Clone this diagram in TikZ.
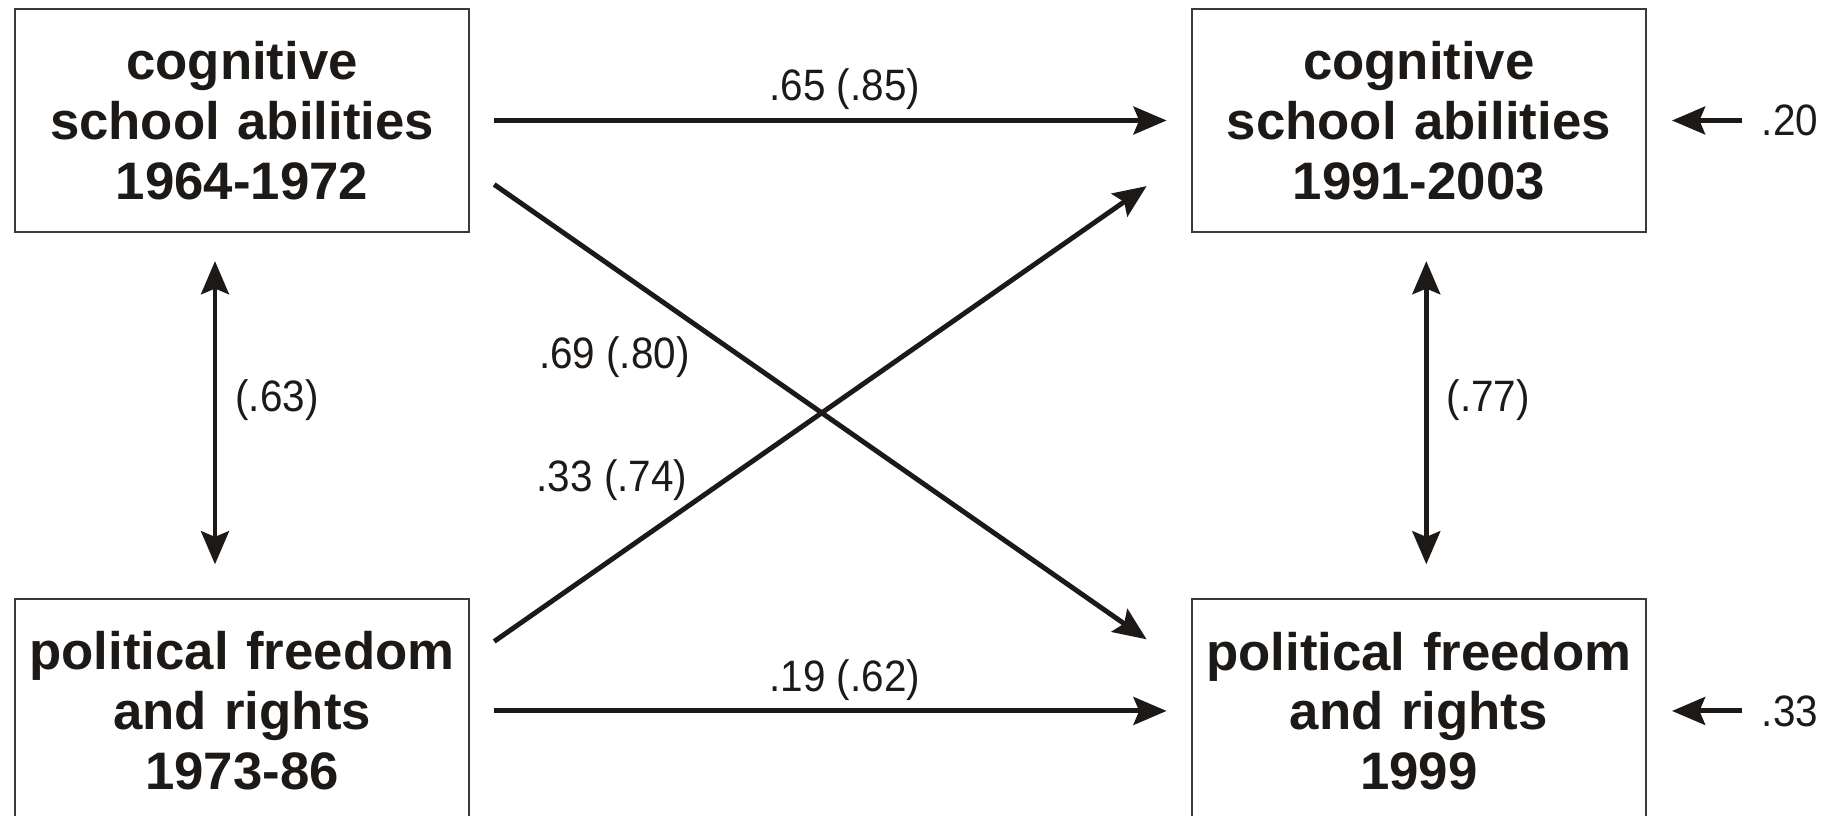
\documentclass[tikz,border=0pt]{standalone}
\usepackage{fontspec}
\setmainfont{Liberation Sans}
\newfontfamily\coeffont[FakeStretch=0.92]{Liberation Sans}
\usetikzlibrary{arrows.meta,positioning}
\definecolor{Ink}{HTML}{1C1917}
\definecolor{Frame}{HTML}{3A3A3A}

\begin{document}
\begin{tikzpicture}[x=0.01cm,y=-0.01cm,
    box/.style={draw=Frame,line width=0.6pt,minimum width=4.54cm,minimum height=2.23cm,
      inner xsep=0.07cm,text width=4.4cm,align=center,text=Ink,font=\fontsize{15pt}{17pt}\selectfont\bfseries},
    arr/.style={-{Stealth[length=9.4pt,width=7.9pt,inset=1.6pt]},line width=1.4pt,Ink},
    both/.style={arr,{Stealth[length=9.4pt,width=7.9pt,inset=1.6pt]}-{Stealth[length=9.4pt,width=7.9pt,inset=1.6pt]}},
    coef/.style={inner sep=0pt,text=Ink,font=\coeffont\fontsize{12.5pt}{14pt}\selectfont}
  ]
  \useasboundingbox (0,0) rectangle (1828,816);
  \node[box] (cogA) at (242,120.5) {cognitive\\school abilities\\1964-1972};
  \node[box,right=7.2cm of cogA] (cogB) {cognitive\\school abilities\\1991-2003};
  \node[box,below=3.65cm of cogA] (polA) {political freedom\\and rights\\1973-86};
  \node[box,below=3.65cm of cogB] (polB) {political freedom\\and rights\\1999};
  % residuals
  \node[coef,right=1.14cm of cogB] (resB) {.20};
  \node[coef,right=1.14cm of polB] (resP) {.33};
  \draw[arr,shorten <=0.19cm,shorten >=0.25cm] (resB.west) -- (cogB.east);
  \draw[arr,shorten <=0.19cm,shorten >=0.25cm] (resP.west) -- (polB.east);
  % stability paths
  \draw[arr,shorten <=0.24cm,shorten >=0.24cm] (cogA) -- node[coef,above=0.08cm,pos=0.52]{.65 (.85)} (cogB);
  \draw[arr,shorten <=0.24cm,shorten >=0.24cm] (polA) -- node[coef,above=0.08cm,pos=0.52]{.19 (.62)} (polB);
  % cross-lagged paths
  \draw[arr] ([shift={(24,64)}]cogA.east) -- node[coef,left=0.5cm,pos=0.38]{.69 (.80)} ([shift={(-44,41)}]polB.north west);
  \draw[arr] ([shift={(24,-69.5)}]polA.east) -- node[coef,left=0.36cm,pos=0.355]{.33 (.74)} ([shift={(-44,-47)}]cogB.south west);
  % correlations
  \draw[both] ([shift={(-27,28)}]cogA.south) -- node[coef,right=0.18cm,pos=0.46]{(.63)} ([shift={(-27,-34)}]polA.north);
  \draw[both] ([shift={(7.5,28)}]cogB.south) -- node[coef,right=0.18cm,pos=0.46]{(.77)} ([shift={(7.5,-34)}]polB.north);
\end{tikzpicture}
\end{document}
